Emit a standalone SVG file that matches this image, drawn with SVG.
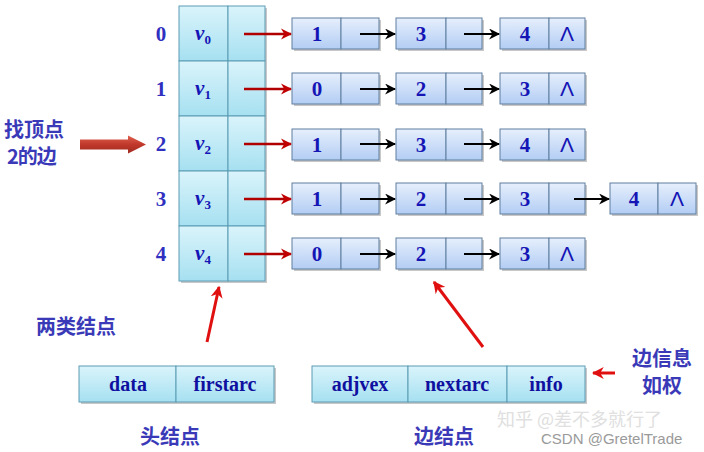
<svg xmlns="http://www.w3.org/2000/svg" width="704" height="452" viewBox="0 0 704 452">
<defs>
<linearGradient id="gc" x1="0" y1="0" x2="0" y2="1"><stop offset="0" stop-color="#daf4fb"/><stop offset="1" stop-color="#a6e0f1"/></linearGradient>
<linearGradient id="gb" x1="0" y1="0" x2="0" y2="1"><stop offset="0" stop-color="#e6effc"/><stop offset="1" stop-color="#b3cdf4"/></linearGradient>
<linearGradient id="gr" x1="0" y1="0" x2="0" y2="1"><stop offset="0" stop-color="#e06050"/><stop offset="0.5" stop-color="#c0392b"/><stop offset="1" stop-color="#a02a20"/></linearGradient>
<marker id="ab" viewBox="0 0 10 10" refX="9" refY="5" markerWidth="5" markerHeight="5" orient="auto" markerUnits="strokeWidth"><path d="M0,0 L10,5 L0,10 L3,5 Z" fill="#000"/></marker>
<marker id="ar" viewBox="0 0 10 10" refX="9" refY="5" markerWidth="4.5" markerHeight="4.5" orient="auto" markerUnits="strokeWidth"><path d="M0,0 L10,5 L0,10 L3,5 Z" fill="#c00000"/></marker>
<marker id="ar2" viewBox="0 0 10 10" refX="9" refY="5" markerWidth="4" markerHeight="4" orient="auto" markerUnits="strokeWidth"><path d="M0,0 L10,5 L0,10 L3,5 Z" fill="#e01010"/></marker>
</defs>
<style>
.hc{fill:url(#gc);stroke:#5b9cb3;stroke-width:1}
.en{fill:url(#gb);stroke:#5f7f9f;stroke-width:1}
.sh{fill:#c8c8c8}
.num{font-family:"Liberation Serif",serif;font-weight:bold;font-size:21px;fill:#1515b5;text-anchor:middle}
.idx{font-family:"Liberation Serif",serif;font-weight:bold;font-size:21px;fill:#3030c0;text-anchor:middle}
.v{font-family:"Liberation Serif",serif;font-weight:bold;font-style:italic;font-size:21px;fill:#1515b5;text-anchor:middle}
.nil{font-family:"Liberation Sans",sans-serif;font-size:21px;fill:#1515b5;text-anchor:middle}
.lab{font-family:"Liberation Serif",serif;font-weight:bold;font-size:20px;fill:#1010a0;text-anchor:middle}
.cn{font-family:"Noto Sans CJK SC",sans-serif;font-size:20px;font-weight:bold;fill:#3a3ab8}
.bl{stroke:#000;stroke-width:2.2;fill:none;marker-end:url(#ab)}
.rd{stroke:#b00000;stroke-width:2.5;fill:none;marker-end:url(#ar)}
.rd2{stroke:#e01010;stroke-width:3;fill:none;marker-end:url(#ar2)}
</style>

<g id="head-table">
<rect class="sh" x="181" y="8" width="86" height="275"/>
<rect class="hc" x="179" y="6" width="49" height="55"/><rect class="hc" x="228" y="6" width="37" height="55"/>
<rect class="hc" x="179" y="61" width="49" height="55"/><rect class="hc" x="228" y="61" width="37" height="55"/>
<rect class="hc" x="179" y="116" width="49" height="55"/><rect class="hc" x="228" y="116" width="37" height="55"/>
<rect class="hc" x="179" y="171" width="49" height="55"/><rect class="hc" x="228" y="171" width="37" height="55"/>
<rect class="hc" x="179" y="226" width="49" height="55"/><rect class="hc" x="228" y="226" width="37" height="55"/>
<text class="v" x="203" y="40">v<tspan font-size="13" font-style="normal" dy="4">0</tspan></text>
<text class="v" x="203" y="95">v<tspan font-size="13" font-style="normal" dy="4">1</tspan></text>
<text class="v" x="203" y="150">v<tspan font-size="13" font-style="normal" dy="4">2</tspan></text>
<text class="v" x="203" y="205">v<tspan font-size="13" font-style="normal" dy="4">3</tspan></text>
<text class="v" x="203" y="260">v<tspan font-size="13" font-style="normal" dy="4">4</tspan></text>
</g>

<g id="indices">
<text class="idx" x="161" y="41">0</text>
<text class="idx" x="161" y="96">1</text>
<text class="idx" x="161" y="151">2</text>
<text class="idx" x="161" y="206">3</text>
<text class="idx" x="161" y="261">4</text>
</g>

<g id="row0">
<rect class="sh" x="294" y="20" width="87" height="31"/><rect class="en" x="292" y="18" width="49" height="31"/><rect class="en" x="341" y="18" width="38" height="31"/><text class="num" x="317" y="41">1</text>
<rect class="sh" x="398" y="20" width="86" height="31"/><rect class="en" x="396" y="18" width="50" height="31"/><rect class="en" x="446" y="18" width="36" height="31"/><text class="num" x="421" y="41">3</text>
<rect class="sh" x="502" y="20" width="85" height="31"/><rect class="en" x="500" y="18" width="49" height="31"/><rect class="en" x="549" y="18" width="36" height="31"/><text class="num" x="525" y="41">4</text><text class="nil" x="567" y="41">Λ</text>
</g>
<g id="row1">
<rect class="sh" x="294" y="75" width="87" height="31"/><rect class="en" x="292" y="73" width="49" height="31"/><rect class="en" x="341" y="73" width="38" height="31"/><text class="num" x="317" y="96">0</text>
<rect class="sh" x="398" y="75" width="86" height="31"/><rect class="en" x="396" y="73" width="50" height="31"/><rect class="en" x="446" y="73" width="36" height="31"/><text class="num" x="421" y="96">2</text>
<rect class="sh" x="502" y="75" width="85" height="31"/><rect class="en" x="500" y="73" width="49" height="31"/><rect class="en" x="549" y="73" width="36" height="31"/><text class="num" x="525" y="96">3</text><text class="nil" x="567" y="96">Λ</text>
</g>
<g id="row2">
<rect class="sh" x="294" y="131" width="87" height="31"/><rect class="en" x="292" y="129" width="49" height="31"/><rect class="en" x="341" y="129" width="38" height="31"/><text class="num" x="317" y="152">1</text>
<rect class="sh" x="398" y="131" width="86" height="31"/><rect class="en" x="396" y="129" width="50" height="31"/><rect class="en" x="446" y="129" width="36" height="31"/><text class="num" x="421" y="152">3</text>
<rect class="sh" x="502" y="131" width="85" height="31"/><rect class="en" x="500" y="129" width="49" height="31"/><rect class="en" x="549" y="129" width="36" height="31"/><text class="num" x="525" y="152">4</text><text class="nil" x="567" y="152">Λ</text>
</g>
<g id="row3">
<rect class="sh" x="294" y="185" width="87" height="31"/><rect class="en" x="292" y="183" width="49" height="31"/><rect class="en" x="341" y="183" width="38" height="31"/><text class="num" x="317" y="206">1</text>
<rect class="sh" x="398" y="185" width="86" height="31"/><rect class="en" x="396" y="183" width="50" height="31"/><rect class="en" x="446" y="183" width="36" height="31"/><text class="num" x="421" y="206">2</text>
<rect class="sh" x="502" y="185" width="85" height="31"/><rect class="en" x="500" y="183" width="49" height="31"/><rect class="en" x="549" y="183" width="36" height="31"/><text class="num" x="525" y="206">3</text>
<rect class="sh" x="612" y="185" width="86" height="31"/><rect class="en" x="610" y="183" width="48" height="31"/><rect class="en" x="658" y="183" width="38" height="31"/><text class="num" x="634" y="206">4</text><text class="nil" x="677" y="206">Λ</text>
</g>
<g id="row4">
<rect class="sh" x="294" y="240" width="87" height="31"/><rect class="en" x="292" y="238" width="49" height="31"/><rect class="en" x="341" y="238" width="38" height="31"/><text class="num" x="317" y="261">0</text>
<rect class="sh" x="398" y="240" width="86" height="31"/><rect class="en" x="396" y="238" width="50" height="31"/><rect class="en" x="446" y="238" width="36" height="31"/><text class="num" x="421" y="261">2</text>
<rect class="sh" x="502" y="240" width="85" height="31"/><rect class="en" x="500" y="238" width="49" height="31"/><rect class="en" x="549" y="238" width="36" height="31"/><text class="num" x="525" y="261">3</text><text class="nil" x="567" y="261">Λ</text>
</g>

<g id="head-node">
<rect class="sh" x="81" y="368" width="195" height="36"/>
<rect class="hc" x="79" y="366" width="97" height="36"/><rect class="hc" x="176" y="366" width="98" height="36"/>
<text class="lab" x="128" y="391">data</text>
<text class="lab" x="225" y="391">firstarc</text>
</g>
<g id="edge-node">
<rect class="sh" x="314" y="368" width="273" height="36"/>
<rect class="hc" x="312" y="366" width="96" height="36"/><rect class="hc" x="408" y="366" width="99" height="36"/><rect class="hc" x="507" y="366" width="78" height="36"/>
<text class="lab" x="360" y="391">adjvex</text>
<text class="lab" x="457" y="391">nextarc</text>
<text class="lab" x="546" y="391">info</text>
</g>

<g id="labels">
<text class="cn" x="4" y="137" font-size="19">找顶点</text>
<text class="cn" x="7" y="164" font-size="19" letter-spacing="-1">2的边</text>
<text class="cn" x="36" y="334" font-size="22">两类结点</text>
<text class="cn" x="140" y="444" font-size="22">头结点</text>
<text class="cn" x="414" y="444" font-size="22">边结点</text>
<text class="cn" x="632" y="366">边信息</text>
<text class="cn" x="642" y="393">如权</text>
</g>

<g id="connectors">
<path d="M80,139.5 L128,139.5 L128,135.5 L146,144.5 L128,153.5 L128,149.5 L80,149.5 Z" fill="url(#gr)"/>
<line class="rd" x1="244" y1="34" x2="291" y2="34"/>
<line class="rd" x1="244" y1="89" x2="291" y2="89"/>
<line class="rd" x1="244" y1="144" x2="291" y2="144"/>
<line class="rd" x1="244" y1="199" x2="291" y2="199"/>
<line class="rd" x1="244" y1="254" x2="291" y2="254"/>
<line class="bl" x1="360" y1="34" x2="395" y2="34"/>
<line class="bl" x1="464" y1="34" x2="499" y2="34"/>
<line class="bl" x1="360" y1="89" x2="395" y2="89"/>
<line class="bl" x1="464" y1="89" x2="499" y2="89"/>
<line class="bl" x1="360" y1="144" x2="395" y2="144"/>
<line class="bl" x1="464" y1="144" x2="499" y2="144"/>
<line class="bl" x1="360" y1="199" x2="395" y2="199"/>
<line class="bl" x1="464" y1="199" x2="499" y2="199"/>
<line class="bl" x1="574" y1="199" x2="609" y2="199"/>
<line class="bl" x1="360" y1="254" x2="395" y2="254"/>
<line class="bl" x1="464" y1="254" x2="499" y2="254"/>
<line class="rd2" x1="207" y1="342" x2="219" y2="287"/>
<line class="rd2" x1="483" y1="347" x2="434" y2="282"/>
<line class="rd2" x1="615" y1="373" x2="593" y2="373"/>
</g>

<g id="watermark">
<text x="497" y="426" font-family="Noto Sans CJK SC,sans-serif" font-size="18" fill="#e0e0e0">知乎 @差不多就行了</text>
<text x="541" y="444" font-family="Liberation Sans,sans-serif" font-size="15" fill="#9a9a9a">CSDN @GretelTrade</text>
</g>
</svg>
